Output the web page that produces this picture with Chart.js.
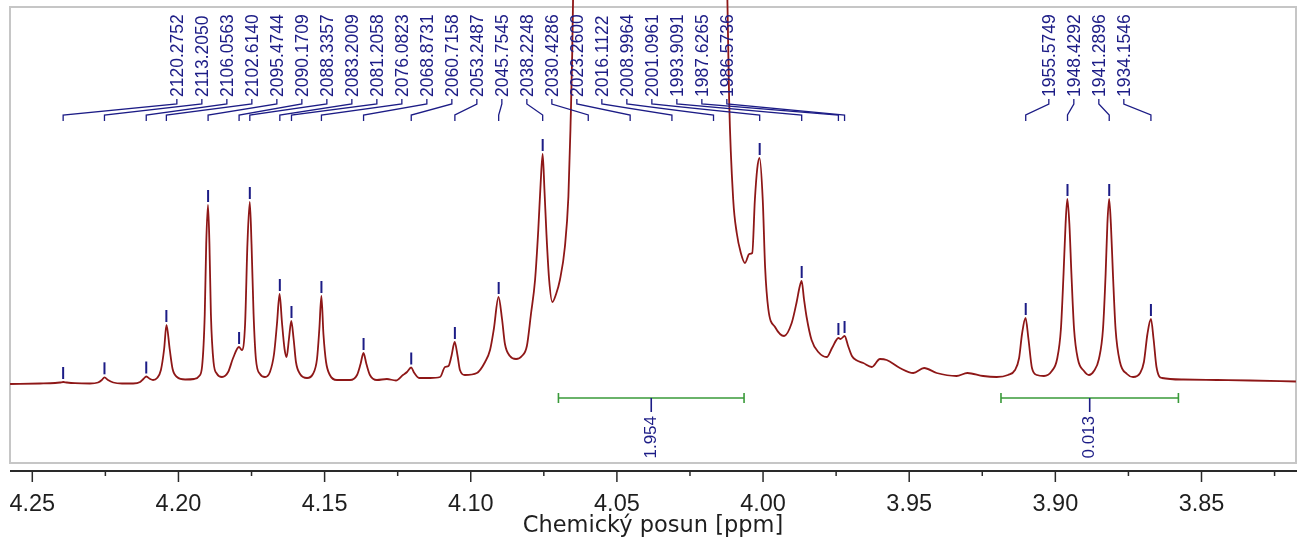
<!DOCTYPE html>
<html><head><meta charset="utf-8">
<script src="https://cdn.jsdelivr.net/npm/chart.js@4.4.1/dist/chart.umd.min.js"></script>
<style>html,body{margin:0;padding:0;background:#fff;}#wrap{width:1308px;height:543px;position:relative;}</style>
</head><body><div id="wrap"><canvas id="c" width="1308" height="543"></canvas></div>
<script>
// ---- data (chemical shift in ppm, intensity in arbitrary units) ----
const specPpm = [
4.2576,4.2474,4.2422,4.2405,4.2394,4.2382,4.2354,4.2303,4.2275,4.2262,4.2253,4.2241,4.2223,4.2193,4.2155,4.2131,4.2120,4.2110,4.2097,4.2087,
4.2073,4.2060,4.2049,4.2041,4.2030,4.2020,4.2005,4.1977,4.1946,4.1929,4.1919,4.1910,4.1905,4.1899,4.1894,4.1889,4.1880,4.1868,4.1851,4.1830,
4.1813,4.1793,4.1783,4.1772,4.1764,4.1756,4.1750,4.1743,4.1735,4.1721,4.1704,4.1687,4.1673,4.1663,4.1654,4.1646,4.1637,4.1630,4.1622,4.1614,
4.1606,4.1598,4.1584,4.1560,4.1540,4.1526,4.1518,4.1511,4.1504,4.1495,4.1482,4.1458,4.1413,4.1389,4.1377,4.1367,4.1357,4.1345,4.1321,4.1287,
4.1256,4.1232,4.1218,4.1204,4.1193,4.1177,4.1139,4.1105,4.1088,4.1076,4.1066,4.1055,4.1045,4.1037,4.1020,4.0979,4.0951,4.0934,4.0921,4.0905,
4.0893,4.0883,4.0866,4.0845,4.0825,4.0808,4.0794,4.0780,4.0769,4.0761,4.0754,4.0748,4.0741,4.0732,4.0721,4.0708,4.0695,4.0678,4.0666,4.0659,
4.0650,4.0640,4.0598,4.0526,4.0455,4.0383,4.0312,4.0241,4.0170,4.0134,4.0122,4.0116,4.0102,4.0090,4.0076,4.0062,4.0047,4.0037,4.0028,4.0020,
4.0012,4.0001,3.9993,3.9982,3.9959,3.9928,3.9902,3.9885,3.9875,3.9868,3.9860,3.9851,3.9834,3.9811,3.9782,3.9764,3.9742,3.9735,3.9721,3.9709,
3.9696,3.9682,3.9657,3.9628,3.9600,3.9577,3.9532,3.9486,3.9449,3.9406,3.9338,3.9301,3.9247,3.9201,3.9162,3.9138,3.9124,3.9114,3.9102,3.9092,
3.9080,3.9063,3.9039,3.9012,3.8994,3.8981,3.8972,3.8965,3.8959,3.8952,3.8945,3.8936,3.8923,3.8902,3.8885,3.8868,3.8851,3.8837,3.8828,3.8822,
3.8816,3.8810,3.8803,3.8794,3.8779,3.8755,3.8734,3.8710,3.8697,3.8685,3.8673,3.8664,3.8654,3.8635,3.8563,3.8447,3.8334,3.8177
];
const specInt = [
0,0.5,1,1.5,2,1.5,0.8,0.5,1.5,4,6.7,4,1.5,0.5,0.5,2,5,7.5,5,4,
6,14,35,59,35,15,7,4.5,5,8,18,70,140,179,140,70,22,10,7,12,
26,37,34,60,140,182,140,70,25,10,7,12,30,60,90,62,35,27,45,63,
45,22,10,6,10,25,55,88,50,22,9,4,4,9,20,31,20,9,4,5,
3.5,9,12,16.5,11,6,6,7,17,18,28,42,28,14,9,11,22,34,55,87,
65,40,28,25,28,38,70,104,154,200,230,195,150,105,82,90,104,137,187,254,
384,700,4000,2500,6000,4000,6000,2500,4000,700,384,284,184,151,131,121,130,131,184,215,
226,184,117,75,57,48,61,82,97,103,85,67,44,32,27,36,46,45,48,38,
28,24,21,17,25,24,16,11,16,11,8,11,8,7,9,14,26,50,66,45,
16,9,8,13,25,55,110,160,185,160,110,55,25,13,9,13,25,55,110,160,
185,160,110,55,22,10,7,11,22,50,65,45,17,6,4.5,4,3.5,2.5
];
const SPECTROMETER_MHZ = 500.13;
const peakHz = [2120.2752,2113.2050,2106.0563,2102.6140,2095.4744,2090.1709,2088.3357,2083.2009,2081.2058,2076.0823,
2068.8731,2060.7158,2053.2487,2045.7545,2038.2248,2030.4286,2023.2600,2016.1122,2008.9964,2001.0961,
1993.9091,1987.6265,1986.5736,1955.5749,1948.4292,1941.2896,1934.1546];
const peakTop = [2,6.7,7.5,59,179,37,182,90,63,88,31,16.5,42,87,230,null,null,null,null,226,103,46,48,66,185,185,65];
const tickValues = [4.25,4.20,4.15,4.10,4.05,4.00,3.95,3.90,3.85];
const tickLabels = ['4.25','4.20','4.15','4.10','4.05','4.00','3.95','3.90','3.85'];
const minorTickValues = [4.225,4.175,4.125,4.075,4.025,3.975,3.925,3.875,3.825];
const integralFrom = [4.0700,3.9186];
const integralTo = [4.0065,3.8579];
const integralLabels = ['1.954','0.013'];
const axisTitle = 'Chemický posun [ppm]';

const X_MIN = 3.81767, X_MAX = 4.25763, Y_MIN = -79, Y_MAX = 377;
const INTEGRAL_LEVEL = -14;
const NAVY = '#1c1c86';
const FONT = '"Liberation Sans", Arial, sans-serif';
const TITLE_FONT = '"DejaVu Sans", Verdana, sans-serif';

const decor = {
  id: 'decor',
  beforeDatasetsDraw(chart) {
    const ctx = chart.ctx, a = chart.chartArea;
    ctx.save();
    ctx.strokeStyle = '#c6c6c6'; ctx.lineWidth = 2;
    ctx.strokeRect(a.left, a.top, a.right - a.left, a.bottom - a.top);
    ctx.restore();
  },
  afterDatasetsDraw(chart) {
    const ctx = chart.ctx, a = chart.chartArea;
    const xs = chart.scales.x, ys = chart.scales.y;
    ctx.save();
    // axis
    const axY = a.bottom + 8;
    ctx.strokeStyle = '#2a2a2a'; ctx.lineWidth = 2;
    ctx.beginPath(); ctx.moveTo(a.left, axY); ctx.lineTo(a.right + 1, axY); ctx.stroke();
    ctx.lineWidth = 1.5;
    tickValues.forEach(v => { const x = xs.getPixelForValue(v); ctx.beginPath(); ctx.moveTo(x, axY); ctx.lineTo(x, axY + 11); ctx.stroke(); });
    minorTickValues.forEach(v => { const x = xs.getPixelForValue(v); ctx.beginPath(); ctx.moveTo(x, axY); ctx.lineTo(x, axY + 5); ctx.stroke(); });
    ctx.fillStyle = '#1e1e1e'; ctx.font = '23.5px ' + FONT; ctx.textAlign = 'center'; ctx.textBaseline = 'alphabetic';
    tickValues.forEach((v, i) => ctx.fillText(tickLabels[i], xs.getPixelForValue(v), axY + 40));
    ctx.font = '22.5px ' + TITLE_FONT;
    ctx.fillText(axisTitle, (a.left + a.right) / 2, axY + 61);

    // peaks
    const px = peakHz.map(h => xs.getPixelForValue(h / SPECTROMETER_MHZ));
    ctx.strokeStyle = NAVY; ctx.lineWidth = 2;
    peakTop.forEach((t, i) => {
      if (t === null) return;
      const py = ys.getPixelForValue(t);
      if (py - 15 < a.top) return;
      ctx.beginPath(); ctx.moveTo(px[i], py - 15); ctx.lineTo(px[i], py - 3); ctx.stroke();
    });
    // label groups
    const groups = []; let cur = [0];
    for (let i = 1; i < px.length; i++) { if (px[i] - px[i - 1] > 100) { groups.push(cur); cur = [i]; } else cur.push(i); }
    groups.push(cur);
    ctx.font = '17.5px ' + FONT; ctx.fillStyle = NAVY; ctx.lineWidth = 1.3;
    groups.forEach(g => {
      const mid = (px[g[0]] + px[g[g.length - 1]]) / 2 - 2;
      g.forEach((idx, k) => {
        const lx = mid + (k - (g.length - 1) / 2) * 25;
        ctx.beginPath(); ctx.moveTo(lx, 99); ctx.lineTo(lx, 104); ctx.lineTo(px[idx], 115); ctx.lineTo(px[idx], 121); ctx.stroke();
        ctx.save(); ctx.translate(lx + 1, 97); ctx.rotate(-Math.PI / 2);
        ctx.textAlign = 'left'; ctx.textBaseline = 'middle';
        ctx.fillText(peakHz[idx].toFixed(4), 0, 0); ctx.restore();
      });
    });
    // integrals
    const iy = ys.getPixelForValue(INTEGRAL_LEVEL);
    integralFrom.forEach((f, i) => {
      const x1 = xs.getPixelForValue(f), x2 = xs.getPixelForValue(integralTo[i]);
      ctx.strokeStyle = '#3a9a3a'; ctx.lineWidth = 1.6;
      ctx.beginPath(); ctx.moveTo(x1, iy); ctx.lineTo(x2, iy);
      ctx.moveTo(x1, iy - 5); ctx.lineTo(x1, iy + 5); ctx.moveTo(x2, iy - 5); ctx.lineTo(x2, iy + 5); ctx.stroke();
      const xm = (x1 + x2) / 2;
      ctx.strokeStyle = NAVY; ctx.lineWidth = 1.6;
      ctx.beginPath(); ctx.moveTo(xm, iy); ctx.lineTo(xm, iy + 14); ctx.stroke();
      ctx.save(); ctx.translate(xm, iy + 18); ctx.rotate(-Math.PI / 2);
      ctx.font = '17px ' + FONT; ctx.fillStyle = NAVY; ctx.textAlign = 'right'; ctx.textBaseline = 'middle';
      ctx.fillText(integralLabels[i], 0, 0); ctx.restore();
    });
    ctx.restore();
  }
};

new Chart(document.getElementById('c'), {
  type: 'line',
  data: { datasets: [{
    data: specPpm.map((p, i) => ({ x: p, y: specInt[i] })),
    borderColor: '#8e1717', borderWidth: 1.8, pointRadius: 0, fill: false,
    cubicInterpolationMode: 'monotone', clip: { left: 0, top: 7, right: 0, bottom: 0 }
  }]},
  options: {
    responsive: false, animation: false, devicePixelRatio: 1,
    layout: { padding: { left: 10, top: 7, right: 12, bottom: 80 } },
    scales: {
      x: { type: 'linear', reverse: true, min: X_MIN, max: X_MAX, display: false },
      y: { min: Y_MIN, max: Y_MAX, display: false }
    },
    plugins: { legend: { display: false }, tooltip: { enabled: false } }
  },
  plugins: [decor]
});
</script></body></html>
